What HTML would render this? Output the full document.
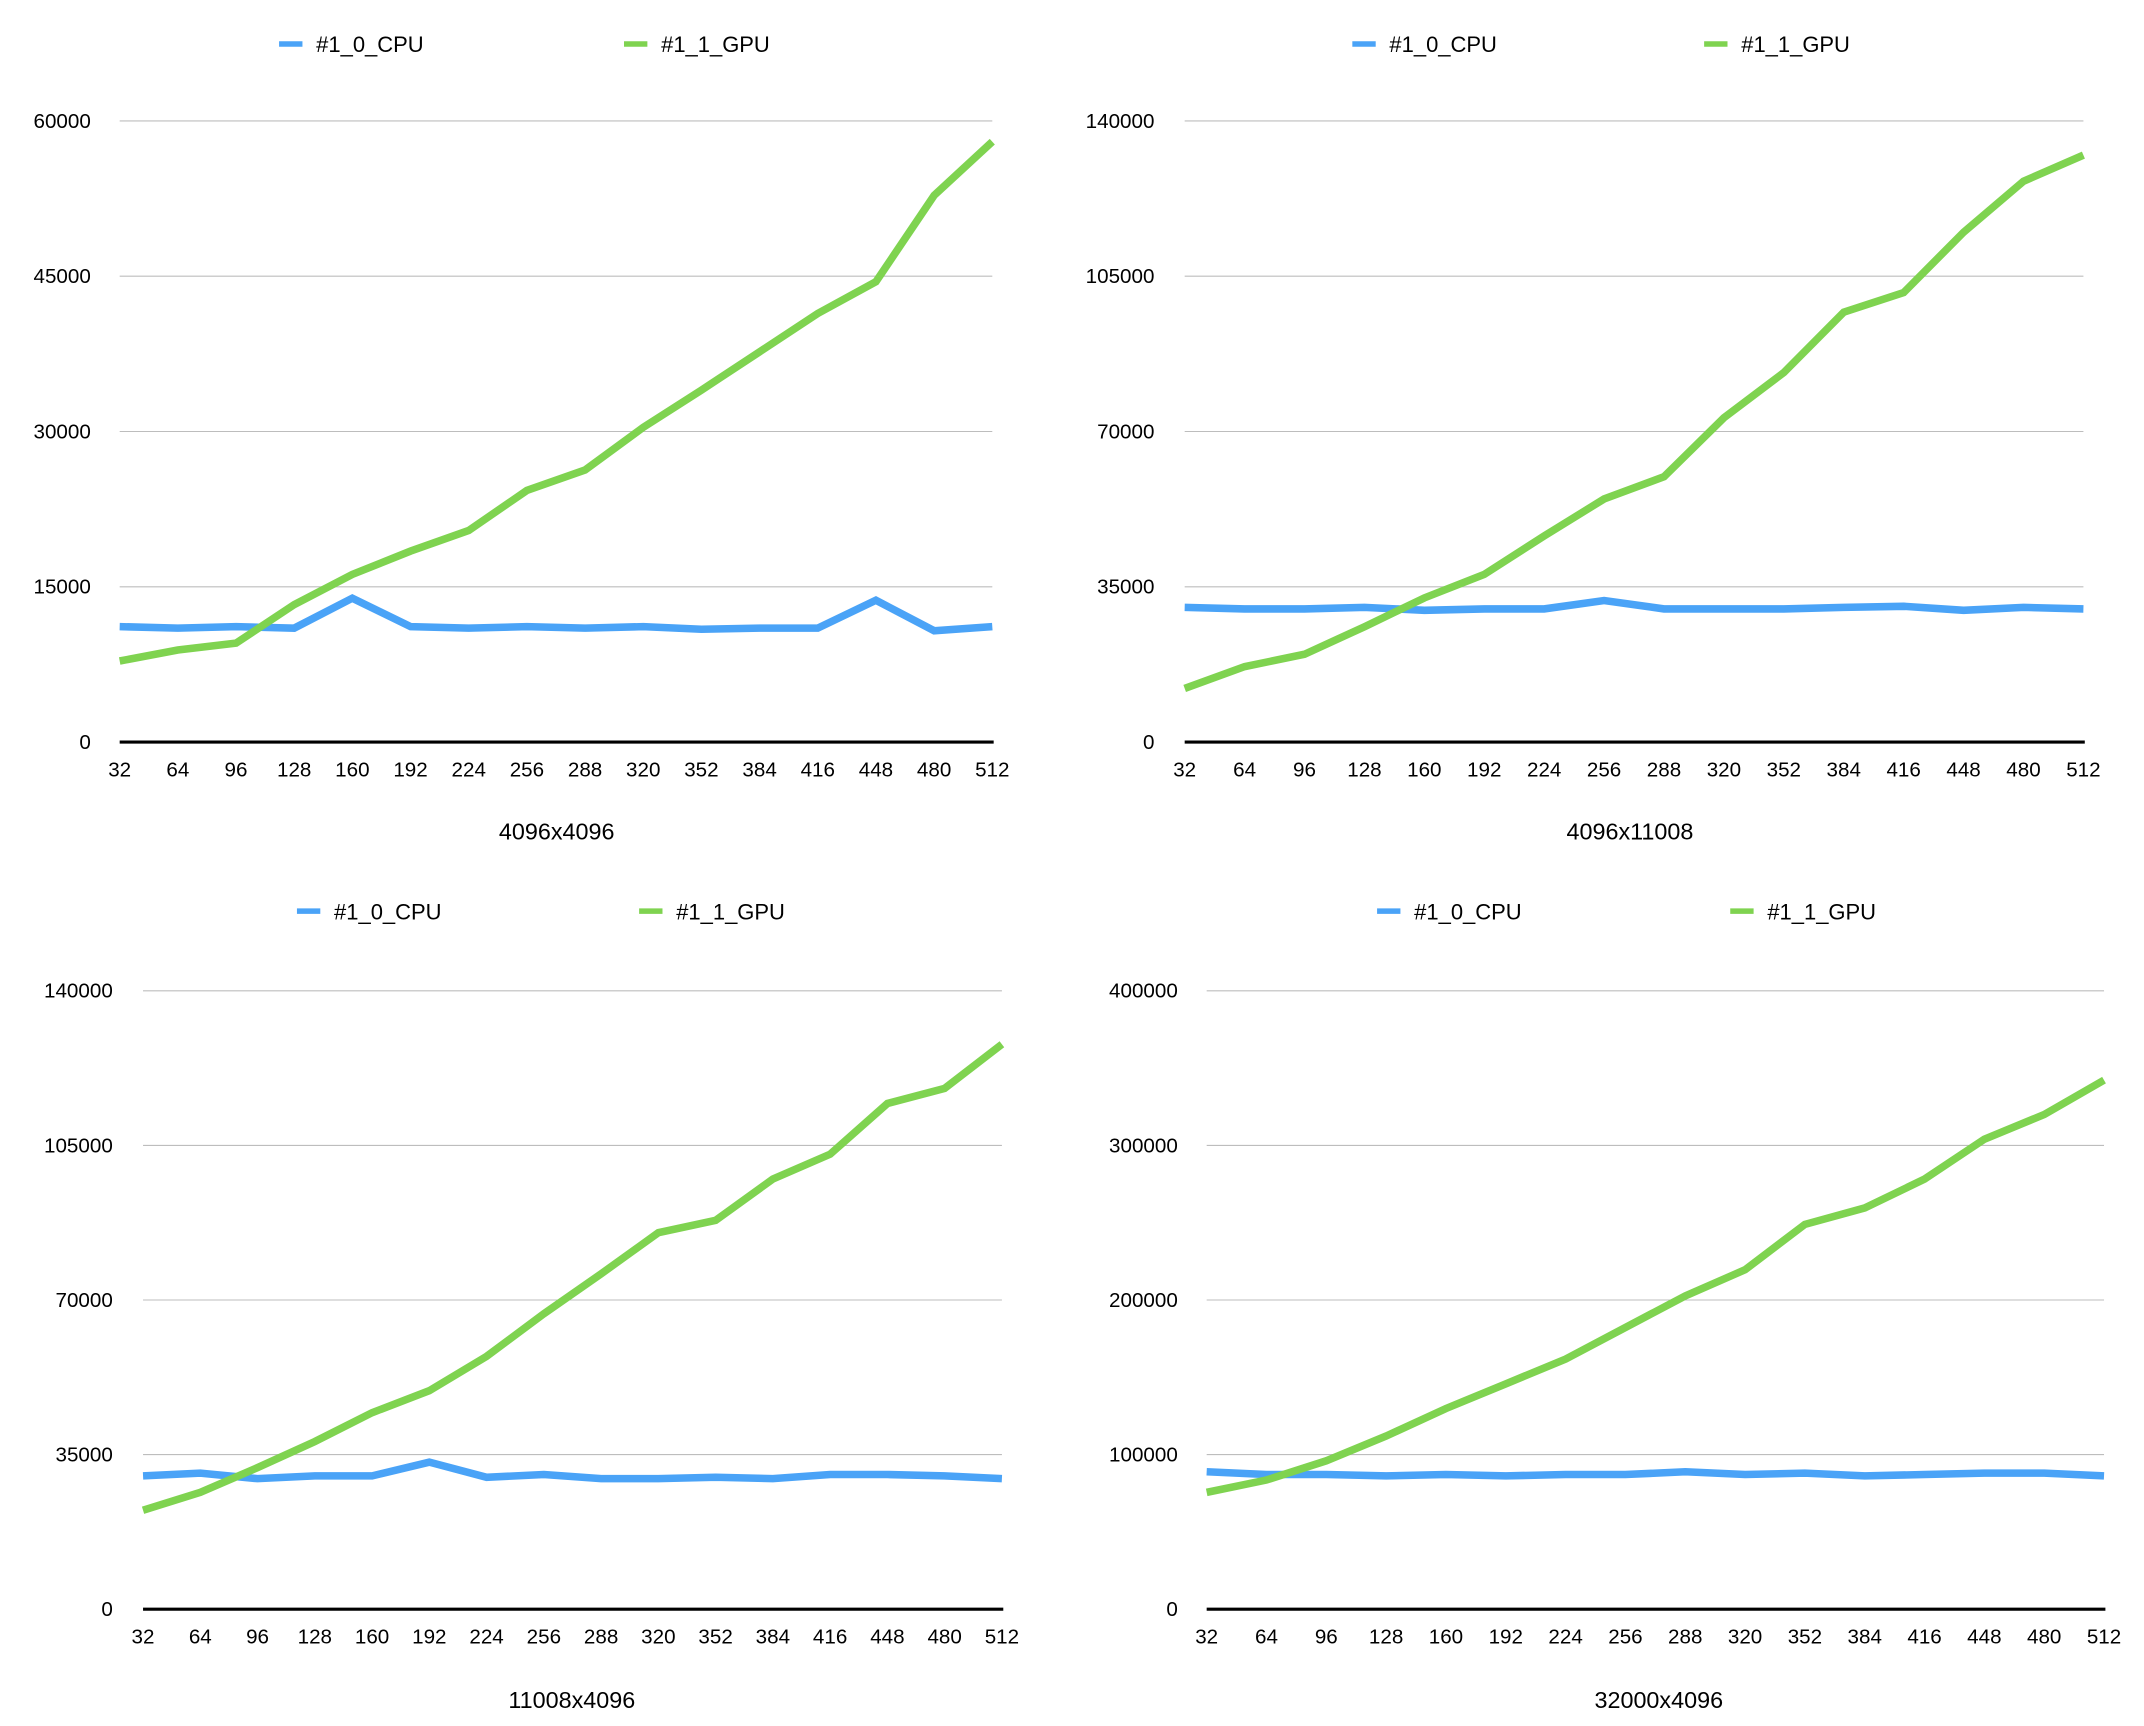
<!DOCTYPE html>
<html><head><meta charset="utf-8"><style>
html,body{margin:0;padding:0;background:#fff;}
svg{display:block;font-family:"Liberation Sans",sans-serif;}
</style></head><body>
<svg id="s" width="2144" height="1726" viewBox="0 0 1560 1256" xmlns="http://www.w3.org/2000/svg"></svg>
<script>
const categories=[32,64,96,128,160,192,224,256,288,320,352,384,416,448,480,512];
const cpu1=[11150,11000,11150,11000,13900,11150,11000,11150,11000,11150,10900,11000,11000,13700,10750,11150];
const gpu1=[7830,8900,9560,13270,16200,18450,20440,24300,26280,30400,34000,37700,41400,44470,52800,58000];
const ticks1=[0,15000,30000,45000,60000];
const cpu2=[30350,30000,30000,30350,29700,30000,30000,31900,30000,30000,30000,30350,30600,29700,30350,30000];
const gpu2=[12080,17000,19800,26000,32500,37800,46460,54800,59800,73100,83300,96900,101300,114900,126400,132300];
const ticks2=[0,35000,70000,105000,140000];
const cpu3=[30180,30800,29560,30180,30180,33290,29870,30500,29560,29560,29870,29560,30500,30500,30180,29560];
const gpu3=[22400,26440,32040,37960,44490,49470,57250,66890,75900,85240,88040,97380,103000,114500,117900,127900];
const ticks3=[0,35000,70000,105000,140000];
const cpu4=[88900,87100,87100,86200,87100,86200,87100,87100,88900,87100,88000,86200,87100,88000,88000,86200];
const gpu4=[75600,83600,96000,112000,129800,145800,161800,182200,202700,219600,248900,259600,278200,304000,320000,342200];
const ticks4=[0,100000,200000,300000,400000];
const titles=["4096x4096","4096x11008","11008x4096","32000x4096"];

const NS="http://www.w3.org/2000/svg";
const svg=document.getElementById('s');
function mk(tag,attrs,parent,text){const e=document.createElementNS(NS,tag);for(const k in attrs)e.setAttribute(k,attrs[k]);if(text!==undefined)e.textContent=text;parent.appendChild(e);return e;}

const panels=[
 {cpu:cpu1,gpu:gpu1,ticks:ticks1,x0:87,x1:722,y0:540,y1:88,leg:32,lc:203,lg:454,title:405,ty:605,lab:66},
 {cpu:cpu2,gpu:gpu2,ticks:ticks2,x0:862,x1:1516,y0:540,y1:88,leg:32,lc:984,lg:1240,title:1186,ty:605,lab:840},
 {cpu:cpu3,gpu:gpu3,ticks:ticks3,x0:104,x1:729,y0:1171,y1:721,leg:663,lc:216,lg:465,title:416,ty:1237,lab:82},
 {cpu:cpu4,gpu:gpu4,ticks:ticks4,x0:878,x1:1531,y0:1171,y1:721,leg:663,lc:1002,lg:1259,title:1207,ty:1237,lab:857}
];
panels.forEach((p,i)=>{
 const g=mk('g',{},svg);
 
 
 const max=p.ticks[p.ticks.length-1];
 const xs=k=>p.x0+(p.x1-p.x0)*k/(categories.length-1);
 const ys=v=>p.y0-(p.y0-p.y1)*v/max;
 p.ticks.forEach(t=>{
  if(t>0){const l=mk('line',{x1:p.x0,x2:p.x1,y1:ys(t),y2:ys(t),stroke:'#bdbdbd','stroke-width':0.8},g);
   
   }
  const tx=mk('text',{x:p.lab,y:ys(t)+5,'text-anchor':'end','font-size':15,fill:'#000'},g,String(t));
  
  
 });
 categories.forEach((c,k)=>{
  const tx=mk('text',{x:xs(k),y:p.y0+25,'text-anchor':'middle','font-size':15,fill:'#000'},g,String(c));
  
  
 });
 [[p.cpu,'#4aa3f7','cpu-line'],[p.gpu,'#7fd350','gpu-line']].forEach(([d,col,n])=>{
  const pts=d.map((v,k)=>xs(k).toFixed(1)+','+ys(v).toFixed(1)).join(' ');
  const pl=mk('polyline',{points:pts,fill:'none',stroke:col,'stroke-width':5.5,'stroke-linejoin':'miter'},g);
  
  
 });
 const ax=mk('line',{x1:p.x0,x2:p.x1+1,y1:p.y0,y2:p.y0,stroke:'#000','stroke-width':2.2},g);
 
 
 const l1=mk('line',{x1:p.lc,x2:p.lc+17,y1:p.leg,y2:p.leg,stroke:'#4aa3f7','stroke-width':4},g);
 
 
 const t1=mk('text',{x:p.lc+27,y:p.leg+6,'font-size':16,fill:'#000'},g,'#1_0_CPU');
 
 
 const l2=mk('line',{x1:p.lg,x2:p.lg+17,y1:p.leg,y2:p.leg,stroke:'#7fd350','stroke-width':4},g);
 
 
 const t2=mk('text',{x:p.lg+27,y:p.leg+6,'font-size':16,fill:'#000'},g,'#1_1_GPU');
 
 
 const tt=mk('text',{x:p.title,y:p.ty+6,'text-anchor':'middle','font-size':17,fill:'#000'},g,titles[i]);
 
 
});
</script>
</body></html>
